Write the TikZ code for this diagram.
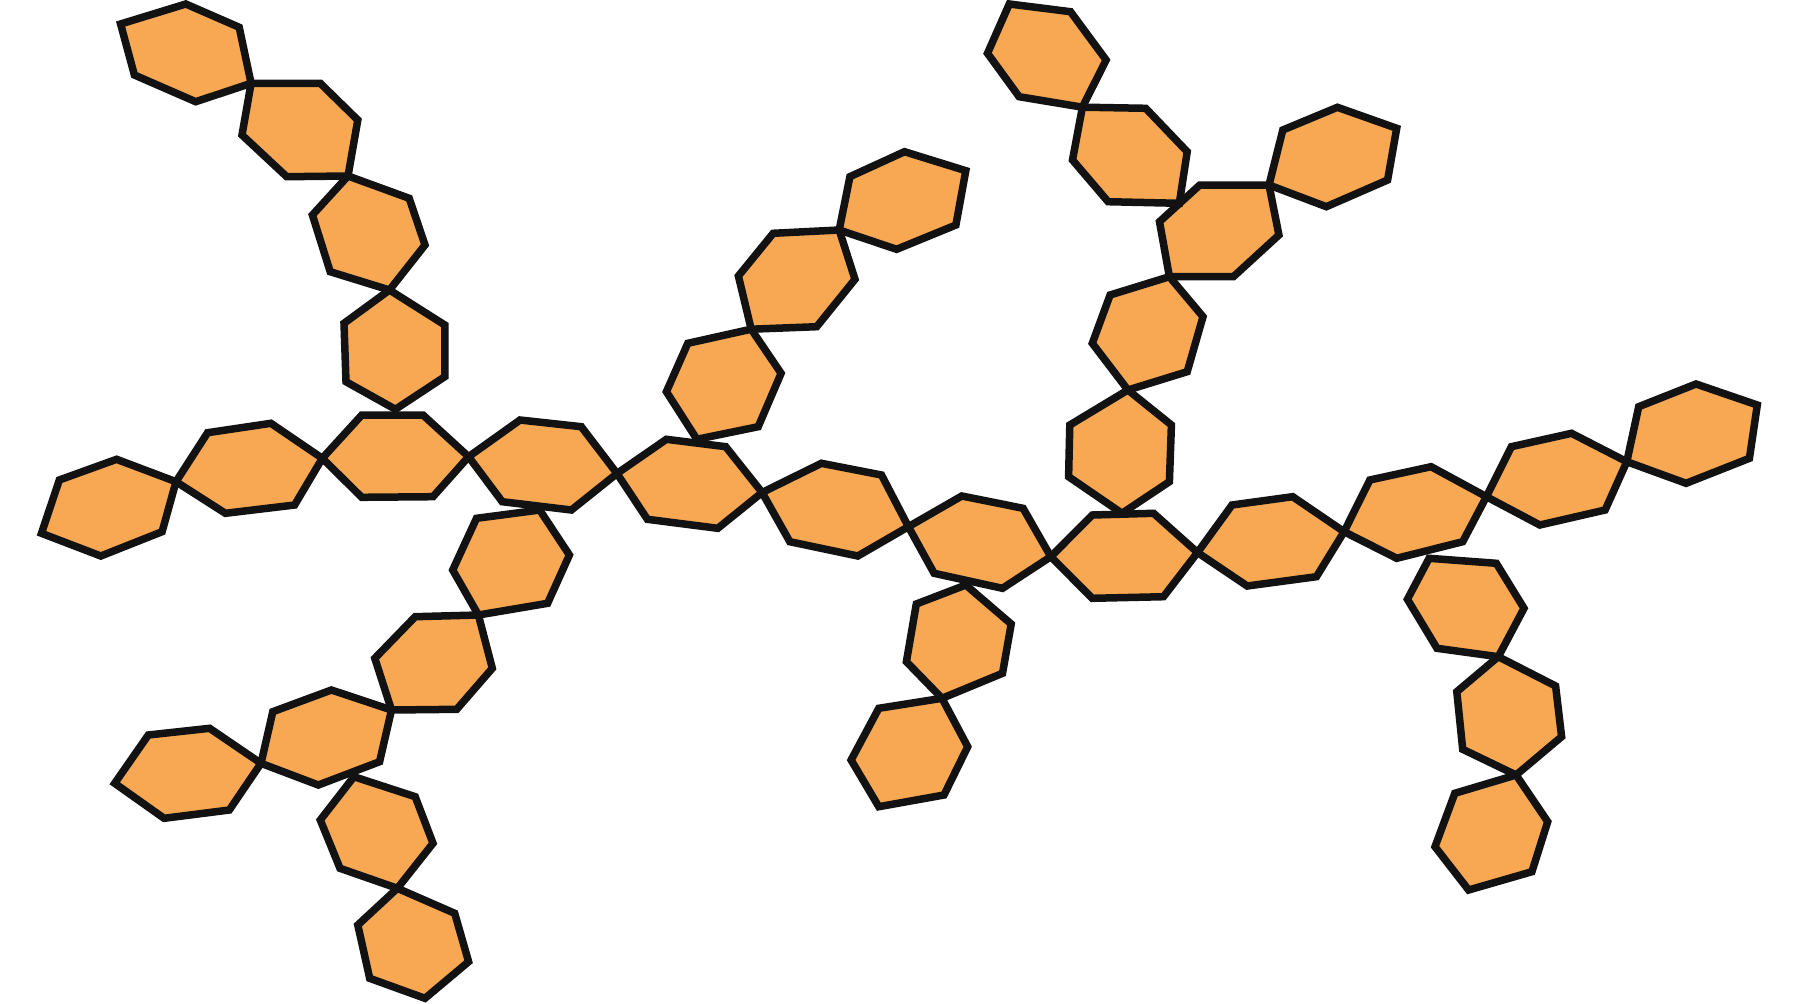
\documentclass[tikz,border=0pt]{standalone}
\definecolor{hexfill}{RGB}{248,168,82}
\definecolor{hexline}{RGB}{18,18,18}
\tikzset{hex/.style={fill=hexfill,draw=hexline,line width=7.5pt,line join=miter}}
\begin{document}
\begin{tikzpicture}[x=1pt,y=-1pt]
\useasboundingbox[fill=white] (0,0) rectangle (1800,1004);
% top-left arm
\draw[hex] (120.6,24) -- (185.8,4) -- (239.2,27.3) -- (251.1,83.3) -- (195.7,101.7) -- (134.4,75) -- cycle;
\draw[hex] (251.1,83.3) -- (320.3,83.3) -- (357.8,120) -- (348,176) -- (286.7,176.7) -- (242,135) -- cycle;
\draw[hex] (348,176) -- (409.2,198.3) -- (425,245) -- (389.5,290) -- (330.2,271.7) -- (312.4,215) -- cycle;
\draw[hex] (389.5,290) -- (444.8,325) -- (444.8,376.7) -- (395.4,409.3) -- (346,381.7) -- (344,323.3) -- cycle;
% backbone
\draw[hex] (59.3,480) -- (116.6,459.3) -- (176,481.7) -- (162.1,531.7) -- (100.8,556) -- (41.5,533.3) -- cycle;
\draw[hex] (176,481.7) -- (207.6,432.7) -- (270.9,423.3) -- (322.3,458.3) -- (294.6,505) -- (225.4,513.3) -- cycle;
\draw[hex] (322.3,458.3) -- (361.8,415) -- (423,415) -- (468.6,456.7) -- (433,496.7) -- (361.8,497.3) -- cycle;
\draw[hex] (468.6,456.7) -- (520,420) -- (581.3,426.7) -- (617,473.5) -- (571.4,510) -- (502.2,501.7) -- cycle;
\draw[hex] (617,473.5) -- (666.4,439.3) -- (725.7,446.7) -- (762.1,492.5) -- (717.8,528.3) -- (647.4,519.3) -- cycle;
\draw[hex] (762.1,492.5) -- (821.4,463.3) -- (881.5,475) -- (908.4,526.7) -- (857.8,556) -- (789.8,541.7) -- cycle;
\draw[hex] (908.4,526.7) -- (961.8,496) -- (1023.1,508.3) -- (1050.8,556.7) -- (1002.5,588.3) -- (934.1,573.3) -- cycle;
\draw[hex] (1050.8,556.7) -- (1092.3,515) -- (1153.6,513.3) -- (1197.5,552.5) -- (1163.5,596.7) -- (1092.3,598.3) -- cycle;
\draw[hex] (1197.5,552.5) -- (1232,505) -- (1292.7,496.7) -- (1344.1,531.7) -- (1316.4,576.7) -- (1247.2,586) -- cycle;
\draw[hex] (1344.1,531.7) -- (1369.8,480) -- (1431.1,466.7) -- (1486.4,496.7) -- (1462.7,541.7) -- (1396.7,558.3) -- cycle;
\draw[hex] (1486.4,496.7) -- (1511.4,446.7) -- (1571.5,433.3) -- (1626.8,461.7) -- (1605.1,510) -- (1539.8,525) -- cycle;
\draw[hex] (1626.8,461.7) -- (1638.7,406.7) -- (1696,384) -- (1757.3,405) -- (1749.4,458.3) -- (1686.1,483.3) -- cycle;
% lower-left branch
\draw[hex] (476.5,518.3) -- (539.7,510) -- (569.4,555) -- (547.6,603.3) -- (478.4,615) -- (452.7,570) -- cycle;
\draw[hex] (478.4,615) -- (492.3,668.3) -- (456.7,709.3) -- (391.5,710) -- (374.8,658.3) -- (415.2,616.7) -- cycle;
\draw[hex] (391.5,710) -- (379.6,761.7) -- (318.3,785) -- (261,763.3) -- (272.8,711.7) -- (331.4,690) -- cycle;
\draw[hex] (261,763.3) -- (229.3,810) -- (164.1,818.3) -- (114.7,783.3) -- (148.3,735) -- (209.6,728.3) -- cycle;
\draw[hex] (353.9,776.7) -- (415.2,796.7) -- (433,843.3) -- (397.4,888.3) -- (340,868.3) -- (320.3,820) -- cycle;
\draw[hex] (397.4,888.3) -- (454.7,913.3) -- (468.6,961.7) -- (425,998.3) -- (369.7,978.3) -- (357.8,925) -- cycle;
% middle upper branch
\draw[hex] (751.2,329.2) -- (781.1,373.3) -- (758.2,426.7) -- (696.9,439.3) -- (666.4,391.7) -- (687.8,343.3) -- cycle;
\draw[hex] (839.2,230) -- (855,279.3) -- (816.7,326.7) -- (751.2,329.2) -- (738.4,276) -- (773.2,233.3) -- cycle;
\draw[hex] (904.5,151.7) -- (965.8,170.7) -- (955.9,225) -- (896.6,249.3) -- (839.2,230) -- (849.9,176.7) -- cycle;
% middle lower branch
\draw[hex] (965.8,585) -- (1011.2,624) -- (1002.5,673.3) -- (942,698.3) -- (906.4,661.7) -- (916.3,604) -- cycle;
\draw[hex] (942,698.3) -- (967.7,746.7) -- (944,795) -- (878.8,806.7) -- (851.1,760) -- (878.8,708.3) -- cycle;
% right upper branch
\draw[hex] (1127.9,390) -- (1171.4,425) -- (1169.4,481.7) -- (1122,513.3) -- (1068.6,476.7) -- (1069.8,425) -- cycle;
\draw[hex] (1169.4,276.7) -- (1203,316.7) -- (1187.2,371.7) -- (1127.9,390) -- (1092.3,343.3) -- (1110.1,295) -- cycle;
\draw[hex] (1199.8,185) -- (1269,185) -- (1278.9,235) -- (1233.4,276.7) -- (1169.4,276.7) -- (1159.5,221.7) -- cycle;
\draw[hex] (1282.8,130) -- (1337.4,107.3) -- (1396.7,128.3) -- (1387.6,180) -- (1326.3,206.7) -- (1269,185) -- cycle;
\draw[hex] (1082.4,107.2) -- (1145.7,108.3) -- (1187.2,151.7) -- (1179.3,203.3) -- (1108.1,201.7) -- (1072.5,160) -- cycle;
\draw[hex] (1009.3,4) -- (1070.5,11.7) -- (1106.1,60) -- (1082.4,107.2) -- (1019.1,96.7) -- (987.5,53.3) -- cycle;
% right lower branch
\draw[hex] (1429.1,558.3) -- (1496.3,563.3) -- (1524,608.3) -- (1498.3,656.7) -- (1437,648.3) -- (1407.4,599.3) -- cycle;
\draw[hex] (1498.3,656.7) -- (1555.6,686) -- (1561.6,736.7) -- (1516.1,775) -- (1462.7,749.3) -- (1456.8,691.7) -- cycle;
\draw[hex] (1516.1,775) -- (1547.7,821.7) -- (1531.9,871.7) -- (1468.6,890) -- (1435,846.7) -- (1454.8,793.3) -- cycle;
\end{tikzpicture}
\end{document}
